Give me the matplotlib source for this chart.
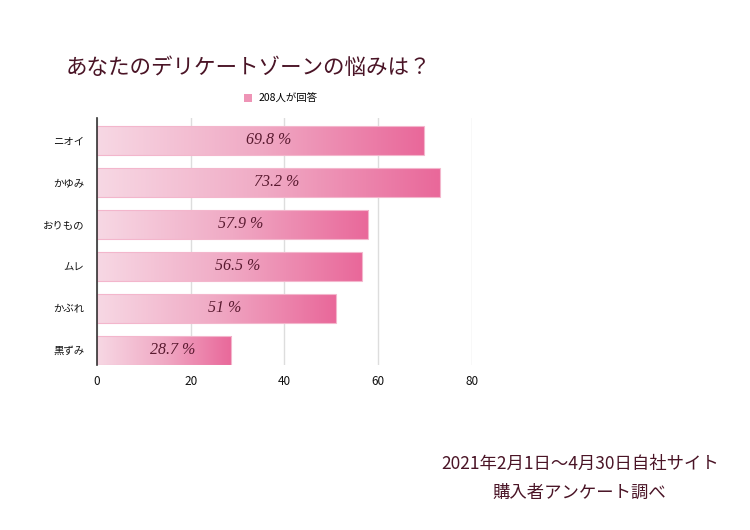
import numpy as np
import matplotlib.pyplot as plt
from matplotlib.colors import LinearSegmentedColormap
from matplotlib.patches import Patch

plt.rcParams['font.family'] = ['Noto Sans CJK JP', 'DejaVu Sans']

# データ
categories = ["ニオイ", "かゆみ", "おりもの", "ムレ", "かぶれ", "黒ずみ"]
values = [69.8, 73.2, 57.9, 56.5, 51, 28.7]
value_labels = ["69.8 %", "73.2 %", "57.9 %", "56.5 %", "51 %", "28.7 %"]
legend_label = "208人が回答"
title = "あなたのデリケートゾーンの悩みは？"
note = "2021年2月1日〜4月30日自社サイト\n購入者アンケート調べ"

dark = "#4a1426"
cmap = LinearSegmentedColormap.from_list("pk", ["#f7d8e4", "#f0a9c4", "#e9689a"])

fig = plt.figure(figsize=(7.5, 5.3), dpi=100)
ax = fig.add_axes([0.1293, 0.311, 0.4997, 0.466])

bar_h = 0.69
grad = np.linspace(0, 1, 256).reshape(1, -1)
for i, (v, lab) in enumerate(zip(values, value_labels)):
    ax.imshow(grad, cmap=cmap, aspect='auto', interpolation='bicubic',
              extent=(0, v, i + bar_h / 2, i - bar_h / 2), zorder=2)
    ax.barh(i, v, height=bar_h, facecolor='none', edgecolor='#f3b6cc',
            linewidth=0.8, zorder=3)
    ax.annotate(lab, (v / 2, i), xytext=(6, 0), textcoords='offset points',
                ha='center', va='center', fontsize=11.5, style='italic',
                family='Liberation Serif', color='#5a1a30', zorder=4)

ax.set_xlim(0, 80)
ax.set_ylim(5.36, -0.53)
ax.set_xticks([0, 20, 40, 60, 80])
ax.set_yticks(range(len(categories)))
ax.set_yticklabels(categories)
ax.tick_params(axis='both', length=0, colors='#111111')
ax.tick_params(axis='y', pad=9, labelsize=7.5)
ax.tick_params(axis='x', pad=7, labelsize=8.5)
ax.grid(axis='x', color='#dddddd', linewidth=1, zorder=0)
ax.set_axisbelow(True)
for s in ['top', 'right', 'bottom']:
    ax.spines[s].set_visible(False)
ax.spines['left'].set_color('#333333')
ax.spines['left'].set_linewidth(1.2)
ax.spines['left'].set_zorder(5)

leg = ax.legend(handles=[Patch(facecolor='#ee94b6', edgecolor='none', label=legend_label)],
                loc='lower center', bbox_to_anchor=(0.49, 1.02), frameon=False,
                fontsize=7.5, handlelength=0.8, handleheight=0.8, handletextpad=0.6)

fig.text(0.088, 0.872, title, fontsize=15.5, color=dark, va='center', ha='left')
fig.text(0.773, 0.097, note, fontsize=12.5, color=dark, ha='center', va='center',
         linespacing=1.75)

fig.savefig("out.png", dpi=100, facecolor='white')
